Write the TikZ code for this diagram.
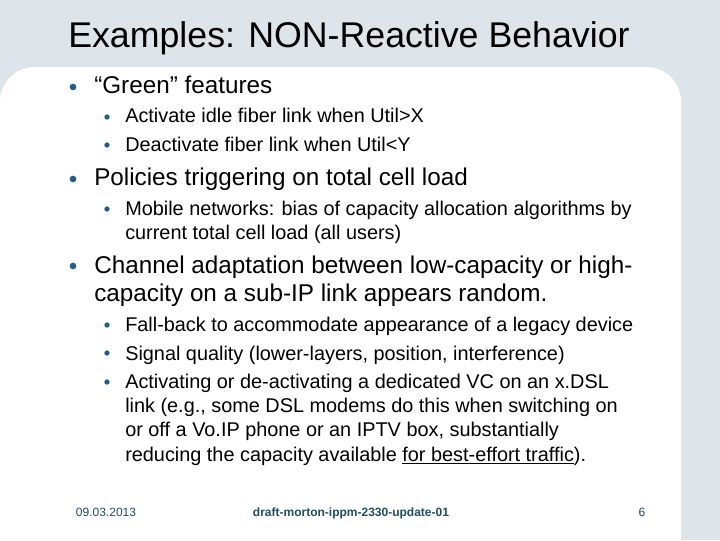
\documentclass[tikz,border=0pt]{standalone}
\usepackage{fontspec}
\setmainfont{Liberation Sans}
\definecolor{bg}{HTML}{DDE4EA}
\definecolor{bul}{HTML}{1F5F8A}
\definecolor{foot}{HTML}{1F4E5F}
\begin{document}
\begin{tikzpicture}[x=0.75pt,y=-0.75pt,
  t/.style={anchor=base west,inner sep=0pt},
  l1/.style={t,font=\fontsize{18.2}{22}\selectfont},
  l2/.style={t,font=\fontsize{14.9}{18}\selectfont},
  b1/.style={circle,fill=bul,inner sep=0pt,minimum size=5pt},
  b2/.style={circle,fill=bul,inner sep=0pt,minimum size=4pt},
  ft/.style={inner sep=0pt,anchor=base,text=foot,font=\fontsize{9}{10}\selectfont}]
\useasboundingbox (0,0) rectangle (720,540);
\fill[bg] (0,0) rectangle (720,540);
\fill[white,rounded corners=26pt] (0,540) -- (0,67) -- (681,67) -- (681,540) -- cycle;
\fill[white] (0,300) rectangle (681,540);
\node[t,font=\fontsize{26.8}{30}\selectfont] (title) at (68,47) {Examples: NON-Reactive Behavior};
\node[b1] (p1) at (73,87) {};
\node[l1] (g) at (94,93) {“Green” features};
\node[b2] (p2) at (107,117) {};
\node[l2] (a1) at (125,122) {Activate idle fiber link when Util>X};
\node[b2] (p3) at (107,145) {};
\node[l2] (a2) at (125,151) {Deactivate fiber link when Util<Y};
\node[b1] (p4) at (73,179) {};
\node[l1] (pol) at (94,185) {Policies triggering on total cell load};
\node[b2] (p5) at (107,209) {};
\node[l2] (mob) at (125,215) {Mobile networks: bias of capacity allocation algorithms by};
\node[l2] (mob2) at (125,239) {current total cell load (all users)};
\node[b1] (p6) at (73,266) {};
\node[l1] (ch) at (94,273) {Channel adaptation between low-capacity or high-};
\node[l1] (ch2) at (94,301) {capacity on a sub-IP link appears random.};
\node[b2] (p7) at (107,325) {};
\node[l2] (fb) at (125,331) {Fall-back to accommodate appearance of a legacy device};
\node[b2] (p8) at (107,353) {};
\node[l2] (sq) at (125,360) {Signal quality (lower-layers, position, interference)};
\node[b2] (p9) at (107,382) {};
\node[l2] (ac1) at (125,388) {Activating or de-activating a dedicated VC on an x.DSL};
\node[l2] (ac2) at (125,412) {link (e.g., some DSL modems do this when switching on};
\node[l2] (ac3) at (125,436) {or off a Vo.IP phone or an IPTV box, substantially};
\node[l2] (ac4) at (125,461) {reducing the capacity available \underline{for best-effort traffic}).};
\node[ft] (f1) at (106,516) {09.03.2013};
\node[ft,font=\bfseries\fontsize{9}{10}\selectfont] (f2) at (351,516) {draft-morton-ippm-2330-update-01};
\node[ft] (f3) at (642,516) {6};
\end{tikzpicture}
\end{document}
